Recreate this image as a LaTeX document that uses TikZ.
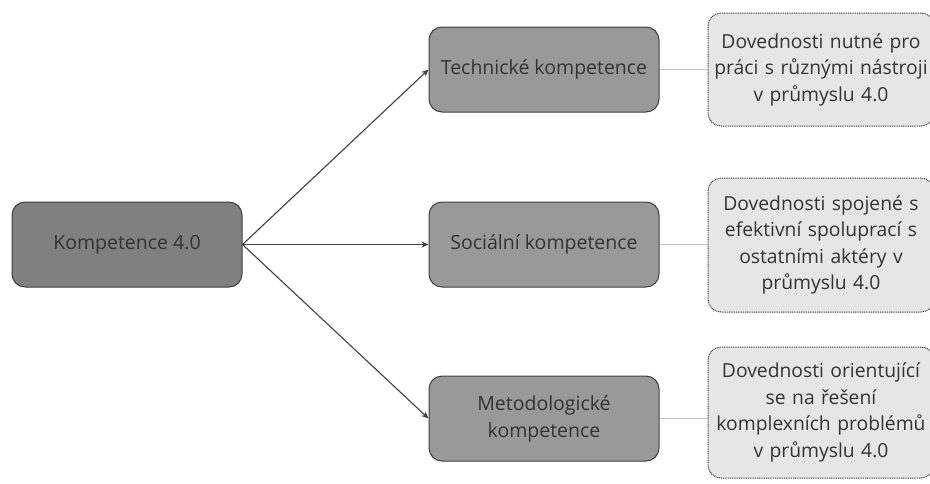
\documentclass[tikz,border=0pt]{standalone}
\usepackage{fontspec}
\setmainfont{Open Sans}
\usetikzlibrary{arrows.meta}
\definecolor{rootfill}{HTML}{808080}
\definecolor{kindfill}{HTML}{999999}
\definecolor{notefill}{HTML}{E6E6E6}
\definecolor{edgegray}{HTML}{3F3F3F}
\definecolor{linkgray}{HTML}{C4C4C4}
\definecolor{textgray}{HTML}{333333}
\tikzset{
  rootbox/.style={draw=edgegray, fill=rootfill, line width=1pt, rounded corners=13pt,
    minimum width=230pt, minimum height=85pt, align=center, text=textgray,
    font=\fontsize{19.5}{27}\selectfont},
  kindbox/.style={rootbox, fill=kindfill},
  notebox/.style={draw=edgegray, fill=notefill, dash pattern=on 1pt off 0.8pt, line width=1pt,
    rounded corners=13pt, minimum width=226pt, text width=224pt, align=center,
    text=textgray, inner sep=0pt, font=\fontsize{19.3}{26.5}\selectfont},
  arrowline/.style={draw=edgegray, line width=1.1pt, -{Stealth[length=7pt,width=6pt]}},
  linkline/.style={draw=linkgray, line width=1.8pt}
}
\begin{document}
\begin{tikzpicture}[x=1pt,y=-1pt]
  \useasboundingbox (0,0) rectangle (930,483);
  \fill[white] (0,0) rectangle (930,483);
  % main nodes
  \node[rootbox] (komp) at (127,244.5) {Kompetence 4.0};
  \node[kindbox] (tech) at (544,69.5) {Technické kompetence};
  \node[kindbox] (soc) at (544,244.5) {Sociální kompetence};
  \node[kindbox] (met) at (544,418.5) {Metodologické\\kompetence};
  % notes
  \node[notebox, minimum height=113pt] (techn) at (821,69.5)
    {Dovednosti nutné pro\\práci s různými nástroji\\v průmyslu 4.0};
  \node[notebox, minimum height=134pt] (socn) at (821,245)
    {Dovednosti spojené s\\efektivní spoluprací s\\ostatními aktéry v\\průmyslu 4.0};
  \node[notebox, minimum height=131pt] (metn) at (821,412.5)
    {Dovednosti orientující\\se na řešení\\komplexních problémů\\v průmyslu 4.0};
  % connectors
  \foreach \k in {tech,soc,met}
    \draw[arrowline] (komp.east) -- (\k.west);
  \draw[linkline] (tech.east) -- (tech.east -| techn.west);
  \draw[linkline] (soc.east) -- (soc.east -| socn.west);
  \draw[linkline] (met.east) -- (met.east -| metn.west);
\end{tikzpicture}
\end{document}
